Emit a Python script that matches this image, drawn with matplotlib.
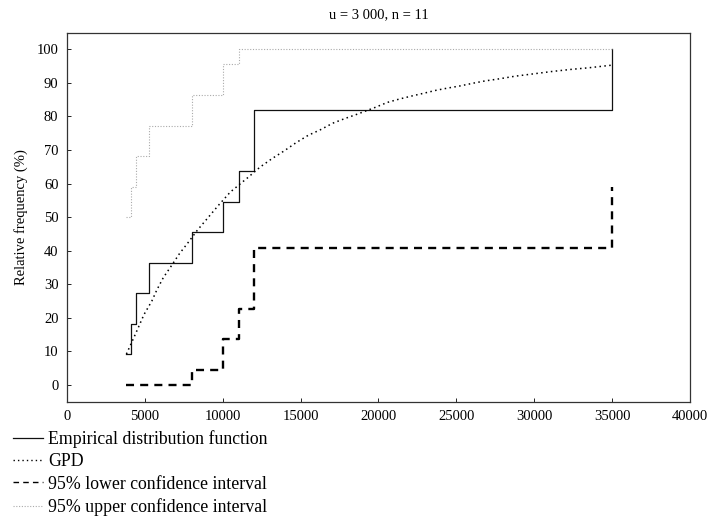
import numpy as np
import matplotlib.pyplot as plt
from matplotlib.lines import Line2D

plt.rcParams['font.family'] = ['Liberation Serif', 'DejaVu Serif']

# exceedances above u = 3000 (n = 11), step positions
step_x = [3830, 4130, 4470, 5290, 8030, 10000, 11040, 12000, 35000]
emp_y = [9.09, 18.18, 27.27, 36.36, 45.45, 54.55, 63.64, 81.82, 100]
lower_y = [0, 0, 0, 0, 4.5, 13.6, 22.7, 40.9, 59.1]
upper_y = [50.0, 59.1, 68.2, 77.3, 86.4, 95.5, 100, 100, 100]

# fitted GPD curve
gpd_x = [3830, 4450, 4960, 5460, 5780, 6200, 6700, 7230, 7800, 8380, 9020,
         9730, 10500, 11650, 12400, 13160, 13970, 14720, 15500, 16260, 17070,
         17860, 18650, 19790, 20580, 21350, 22140, 22890, 23700, 24490, 25240,
         26060, 26850, 27600, 28770, 29950, 31130, 32300, 33480, 35000]
gpd_y = [9.2, 15.6, 21.0, 25.0, 28.3, 32.0, 35.4, 39.1, 42.5, 46.1, 49.6,
         53.5, 57.5, 61.9, 64.9, 67.4, 69.8, 72.2, 74.4, 76.0, 78.0,
         79.4, 80.7, 82.7, 84.2, 85.2, 86.1, 86.9, 87.8, 88.5, 89.1,
         89.9, 90.6, 91.1, 92.0, 92.7, 93.4, 94.0, 94.5, 95.3]

labels = ["Empirical distribution function", "GPD",
          "95% lower confidence interval", "95% upper confidence interval"]

x_ticks = np.arange(0, 40001, 5000)
y_ticks = np.arange(0, 101, 10)

fig = plt.figure(figsize=(7.1, 5.17), dpi=100)
ax = fig.add_axes([0.094, 0.223, 0.878, 0.714])

ax.plot(step_x, emp_y, drawstyle="steps-post", color="#111111", lw=0.9)
ax.plot(gpd_x, gpd_y, color="black", lw=1.1, linestyle=(0, (1, 2.2)))
ax.plot(step_x, lower_y, drawstyle="steps-post", color="black", lw=1.7,
        linestyle=(0, (3.4, 2.6)))
ax.plot(step_x, upper_y, drawstyle="steps-post", color="#aaaaaa", lw=0.8,
        linestyle=(0, (1, 1.5)))

ax.set_xlim(0, 40000)
ax.set_ylim(-5, 105)
ax.set_xticks(x_ticks)
ax.set_yticks(y_ticks)
ax.tick_params(direction="in", length=3, width=0.6, labelsize=10.5, pad=6)
for s in ax.spines.values():
    s.set_color("#333333")
    s.set_linewidth(0.9)

ax.set_ylabel("Relative frequency (%)", fontsize=10.5, labelpad=6)
ax.set_title("u = 3 000, n = 11", fontsize=10.5, pad=10)

# legend handles are drawn a little thinner than the plotted lines
handles = [
    Line2D([], [], color="#111111", lw=0.9),
    Line2D([], [], color="black", lw=1.0, linestyle=(0, (1, 2.2))),
    Line2D([], [], color="black", lw=1.0, linestyle=(0, (4, 3))),
    Line2D([], [], color="#aaaaaa", lw=0.8, linestyle=(0, (1, 1.5))),
]
fig.legend(handles, labels, loc="upper left", bbox_to_anchor=(0.018, 0.168),
           frameon=False, fontsize=12.8, handlelength=1.7, handletextpad=0.3,
           labelspacing=0.3, borderaxespad=0, borderpad=0)

fig.savefig("out.png", dpi=100)
